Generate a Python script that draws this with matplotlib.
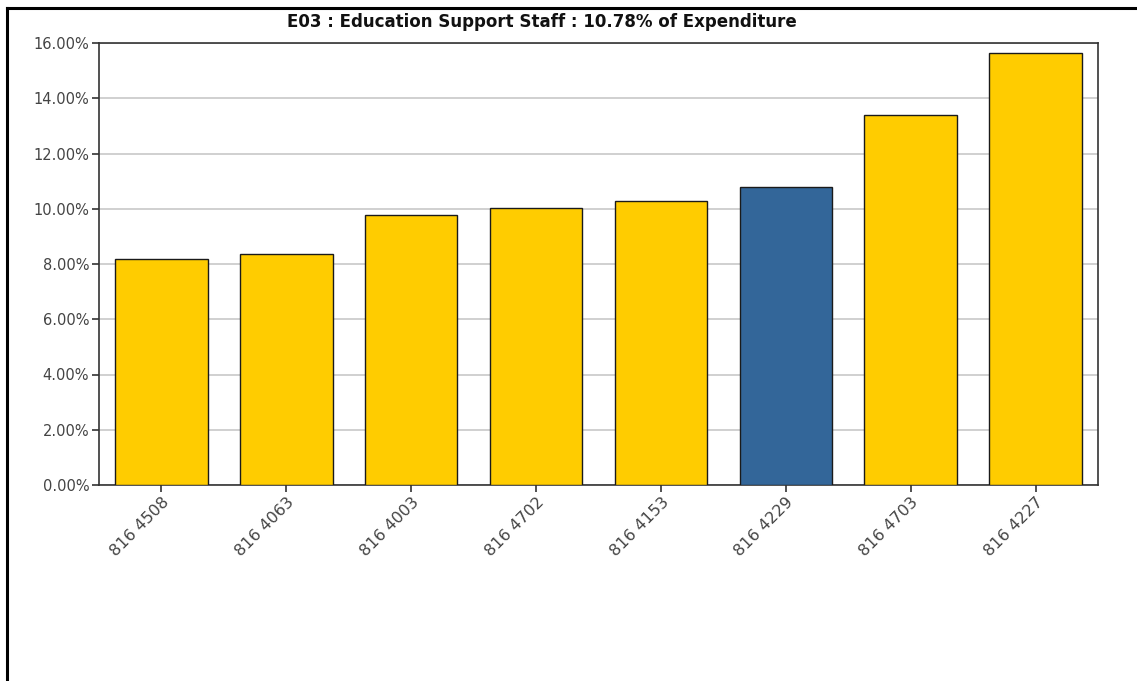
import matplotlib
matplotlib.use("Agg")
import matplotlib.pyplot as plt
from matplotlib.lines import Line2D
from matplotlib.ticker import FuncFormatter, MultipleLocator

categories = ["816 4508", "816 4063", "816 4003", "816 4702", "816 4153", "816 4229", "816 4703", "816 4227"]
values = [8.18, 8.36, 9.77, 10.03, 10.28, 10.78, 13.39, 15.64]
highlight = "816 4229"
title = "E03 : Education Support Staff : 10.78% of Expenditure"

yellow = "#FFCC00"
blue = "#336699"
colors = [blue if c == highlight else yellow for c in categories]

fig = plt.figure(figsize=(11.37, 6.81), dpi=100)
ax = fig.add_axes([99/1137, 1 - 485/681, (1098-99)/1137, (485-43)/681])

x = list(range(len(categories)))
ax.bar(x, values, width=0.74, color=colors, edgecolor="#1a1a1a", linewidth=1.0, zorder=3)

ax.set_xlim(-0.5, len(categories) - 0.5)
ax.set_ylim(0, 16)
ax.yaxis.set_major_locator(MultipleLocator(2))
ax.yaxis.set_major_formatter(FuncFormatter(lambda v, p: f"{v:.2f}%"))
ax.grid(axis="y", color="#c8c8c8", linewidth=1.2, zorder=0)
ax.set_axisbelow(True)

for s in ax.spines.values():
    s.set_color("#333333")
    s.set_linewidth(1.2)

ax.set_xticks(x)
ax.set_xticklabels(categories, rotation=45, ha="right", va="top", rotation_mode="anchor")
ax.tick_params(axis="both", direction="out", length=5, width=1.2, color="#333333",
               labelcolor="#444444")
ax.tick_params(axis="x", pad=2, labelsize=11.5)
ax.tick_params(axis="y", pad=2, labelsize=10.5)
for lbl in ax.get_xticklabels() + ax.get_yticklabels():
    lbl.set_family("DejaVu Sans")

fig.text(542/1137, 1 - 22/681, title, ha="center", va="center", fontsize=13.3,
         fontweight="bold", fontstretch="condensed",
         family=["DejaVu Sans"], color="#111111")

# outer frame lines (top and left)
fig.add_artist(Line2D([7/1137, 1], [1 - 8/681, 1 - 8/681], transform=fig.transFigure,
                      color="black", linewidth=2.2))
fig.add_artist(Line2D([7/1137, 7/1137], [0, 1 - 8/681], transform=fig.transFigure,
                      color="black", linewidth=2.2))

fig.savefig("out.png", dpi=100, facecolor="white")
